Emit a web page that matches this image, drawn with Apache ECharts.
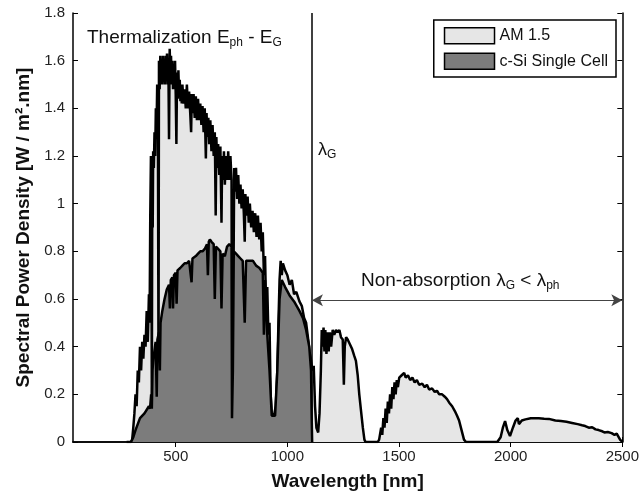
<!DOCTYPE html>
<html>
<head>
<meta charset="utf-8">
<script src="https://cdn.jsdelivr.net/npm/echarts@6/dist/echarts.min.js"></script>
<style>
  html, body { margin: 0; padding: 0; background: #fff; }
  #chart { width: 642px; height: 496px; }
</style>
</head>
<body>
<div id="chart"></div>
<script>
// AM 1.5 spectrum (nm, W/m2.nm)
const amWl = [280, 300, 305, 310, 315, 320, 325, 330, 335, 340, 345, 350, 355, 360, 365, 370, 375, 380, 383, 386,
  389, 391, 393, 395, 397, 399, 402, 405, 408, 411, 414, 417, 420, 423, 425, 428, 431, 434, 437, 440,
  443, 446, 449, 452, 455, 458, 461, 464, 467, 470, 473, 476, 479, 482, 485, 488, 491, 494, 497, 500,
  503, 506, 509, 512, 515, 518, 521, 524, 527, 530, 535, 540, 545, 550, 555, 560, 565, 569, 572, 576,
  580, 585, 590, 595, 600, 605, 610, 615, 620, 625, 630, 635, 638, 642, 646, 650, 655, 660, 665, 670,
  675, 679, 682, 686, 690, 695, 700, 705, 708, 712, 716, 720, 725, 730, 735, 740, 745, 750, 752, 755,
  758, 762, 766, 770, 775, 780, 785, 790, 795, 800, 805, 809, 812, 817, 822, 827, 832, 838, 844, 850,
  856, 862, 868, 874, 880, 885, 890, 895, 900, 905, 910, 915, 920, 925, 930, 940, 948, 955, 960, 965,
  970, 975, 980, 990, 1000, 1010, 1020, 1030, 1040, 1054, 1065, 1075, 1084, 1092, 1099, 1105, 1112, 1118, 1124, 1130,
  1138, 1144, 1150, 1154, 1158, 1162, 1166, 1170, 1175, 1180, 1185, 1190, 1196, 1203, 1210, 1218, 1226, 1233, 1240, 1248,
  1253, 1257, 1263, 1270, 1280, 1290, 1300, 1307, 1315, 1322, 1330, 1338, 1345, 1350, 1405, 1411, 1420, 1425, 1430, 1435,
  1440, 1445, 1450, 1455, 1460, 1465, 1470, 1475, 1480, 1485, 1490, 1495, 1501, 1512, 1523, 1530, 1540, 1550, 1560, 1570,
  1580, 1590, 1604, 1615, 1625, 1635, 1648, 1660, 1670, 1680, 1693, 1705, 1715, 1725, 1738, 1750, 1760, 1769, 1780, 1791,
  1800, 1940, 1955, 1965, 1975, 1985, 1997, 2010, 2022, 2032, 2037, 2050, 2066, 2090, 2126, 2150, 2171, 2200, 2225, 2250,
  2275, 2300, 2320, 2334, 2350, 2365, 2380, 2394, 2410, 2420, 2435, 2452, 2465, 2475, 2490, 2500];
const amVal = [0, 0, 0.01, 0.06, 0.12, 0.2, 0.15, 0.3, 0.25, 0.4, 0.3, 0.42, 0.35, 0.45, 0.4, 0.55, 0.42, 0.62, 0.5, 0.95,
  1.2, 1.05, 0.14, 1.1, 0.9, 1.22, 1.15, 1.3, 1.2, 1.4, 1.3, 1.5, 1.42, 0.3, 1.6, 1.48, 1.62, 1.5, 1.6, 1.5,
  1.62, 1.52, 1.6, 1.5, 1.62, 1.52, 1.63, 1.5, 1.6, 1.27, 1.65, 1.55, 1.62, 1.5, 1.6, 1.48, 1.58, 1.48, 1.6, 1.46,
  1.25, 1.55, 1.44, 1.56, 1.45, 1.52, 1.43, 1.5, 1.42, 1.5, 1.42, 1.48, 1.4, 1.5, 1.4, 1.47, 1.38, 1.3, 1.46, 1.38,
  1.46, 1.36, 1.45, 1.35, 1.44, 1.35, 1.42, 1.33, 1.41, 1.3, 1.4, 1.19, 1.38, 1.28, 1.36, 1.25, 1.35, 1.22, 1.33, 1.2,
  1.3, 0.95, 1.28, 1.15, 1.25, 1.12, 1.24, 0.92, 1.2, 1.1, 1.22, 1.08, 1.2, 1.1, 1.22, 1.1, 1.2, 1.1, 0.1, 0.3,
  0.6, 1.15, 1.05, 1.15, 1.02, 1.12, 1.0, 1.08, 0.98, 1.06, 0.96, 0.84, 1.04, 0.95, 1.03, 0.92, 1.0, 0.9, 0.97, 0.88,
  0.96, 0.86, 0.95, 0.85, 0.92, 0.8, 0.88, 0.7, 0.78, 0.55, 0.65, 0.45, 0.5, 0.2, 0.12, 0.11, 0.15, 0.3, 0.5, 0.68,
  0.76, 0.7, 0.75, 0.72, 0.7, 0.66, 0.68, 0.62, 0.63, 0.59, 0.57, 0.52, 0.5, 0.44, 0.38, 0.35, 0.3, 0.32, 0.15, 0.06,
  0.04, 0.12, 0.3, 0.47, 0.4, 0.48, 0.38, 0.47, 0.37, 0.46, 0.38, 0.46, 0.4, 0.47, 0.45, 0.47, 0.46, 0.47, 0.44, 0.43,
  0.24, 0.4, 0.44, 0.43, 0.41, 0.39, 0.36, 0.34, 0.28, 0.2, 0.13, 0.06, 0.01, 0, 0, 0.01, 0.06, 0.03, 0.1, 0.06,
  0.14, 0.08, 0.17, 0.12, 0.2, 0.14, 0.23, 0.18, 0.25, 0.2, 0.26, 0.23, 0.27, 0.28, 0.29, 0.27, 0.28, 0.26, 0.27, 0.25,
  0.26, 0.24, 0.245, 0.23, 0.24, 0.22, 0.225, 0.21, 0.215, 0.2, 0.2, 0.19, 0.18, 0.165, 0.15, 0.13, 0.11, 0.09, 0.05, 0.01,
  0, 0, 0.02, 0.06, 0.088, 0.05, 0.025, 0.06, 0.09, 0.1, 0.075, 0.09, 0.095, 0.1, 0.1, 0.098, 0.097, 0.09, 0.088, 0.085,
  0.08, 0.075, 0.07, 0.067, 0.06, 0.062, 0.053, 0.05, 0.045, 0.04, 0.042, 0.037, 0.03, 0.035, 0.01, 0];

// c-Si single cell usable part
const siWl = [300, 310, 320, 340, 360, 380, 385, 390, 393, 396, 400, 410, 415, 418, 425, 429, 432, 440, 450, 460,
  470, 474, 478, 485, 488, 492, 500, 504, 508, 520, 530, 540, 550, 560, 571, 575, 590, 600, 610, 620,
  630, 640, 644, 648, 653, 660, 670, 675, 680, 690, 700, 705, 710, 720, 730, 740, 750, 752, 756, 760,
  770, 780, 790, 800, 809, 815, 830, 846, 860, 875, 890, 895, 900, 910, 920, 930, 945, 955, 965, 975,
  990, 1010, 1030, 1054, 1070, 1084, 1098, 1106, 1109, 1111];
const siVal = [0, 0.02, 0.05, 0.1, 0.12, 0.15, 0.14, 0.2, 0.14, 0.3, 0.35, 0.42, 0.19, 0.43, 0.46, 0.3, 0.5, 0.55, 0.6, 0.64,
  0.66, 0.56, 0.68, 0.69, 0.56, 0.7, 0.71, 0.58, 0.72, 0.73, 0.74, 0.75, 0.75, 0.76, 0.67, 0.77, 0.78, 0.79, 0.8, 0.8,
  0.81, 0.83, 0.7, 0.84, 0.85, 0.84, 0.83, 0.6, 0.82, 0.81, 0.8, 0.56, 0.79, 0.78, 0.82, 0.83, 0.82, 0.1, 0.3, 0.8,
  0.79, 0.78, 0.77, 0.76, 0.5, 0.76, 0.76, 0.76, 0.74, 0.73, 0.71, 0.45, 0.68, 0.45, 0.3, 0.11, 0.11, 0.3, 0.6, 0.68,
  0.65, 0.615, 0.59, 0.55, 0.52, 0.47, 0.4, 0.3, 0.1, 0];

const xTicks = [500, 1000, 1500, 2000, 2500];
const lambdaG = 1110;
const arrowY = 0.595;

const font = 'Liberation Sans, Arial, Helvetica, sans-serif';
const zip = (xs, ys) => xs.map((x, i) => [x, ys[i]]);

const chart = echarts.init(document.getElementById('chart'), null, { renderer: 'canvas' });

chart.setOption({
  animation: false,
  grid: { left: 73, right: 19, top: 13, bottom: 52 },
  legend: {
    orient: 'vertical',
    right: 26,
    top: 20,
    padding: [7, 8, 7, 10],
    itemGap: 8,
    itemWidth: 50,
    itemHeight: 16,
    borderColor: '#000',
    borderWidth: 1.5,
    textStyle: { fontFamily: font, fontSize: 16, color: '#111' },
    data: [
      { name: 'AM 1.5', icon: 'rect', itemStyle: { color: '#e6e6e6', borderColor: '#000', borderWidth: 1.5 } },
      { name: 'c-Si Single Cell', icon: 'rect', itemStyle: { color: '#7c7c7c', borderColor: '#000', borderWidth: 1.5 } }
    ]
  },
  xAxis: [{
    type: 'value',
    min: 40,
    max: 2500,
    name: 'Wavelength [nm]',
    nameLocation: 'middle',
    nameGap: 30,
    nameTextStyle: { fontFamily: font, fontSize: 19, fontWeight: 'bold', color: '#111' },
    axisLine: { lineStyle: { color: '#000', width: 1.5 } },
    axisTick: { inside: true, length: 5, customValues: xTicks, lineStyle: { color: '#000' } },
    axisLabel: {
      customValues: xTicks,
      formatter: v => String(v),
      fontFamily: font, fontSize: 15, color: '#222', margin: 7
    },
    splitLine: { show: false }
  }, {
    type: 'value',
    position: 'top',
    min: 40,
    max: 2500,
    axisLine: { show: true, lineStyle: { color: '#000', width: 1.5 } },
    axisTick: { inside: true, length: 5, customValues: xTicks, lineStyle: { color: '#000' } },
    axisLabel: { show: false },
    splitLine: { show: false }
  }],
  yAxis: [{
    type: 'value',
    min: 0,
    max: 1.8,
    interval: 0.2,
    name: 'Spectral Power Density [W / m\u00b2.nm]',
    nameLocation: 'middle',
    nameGap: 36,
    nameTextStyle: { fontFamily: font, fontSize: 19, fontWeight: 'bold', color: '#111' },
    axisLine: { show: true, lineStyle: { color: '#000', width: 1.5 } },
    axisTick: { show: true, inside: true, length: 5, lineStyle: { color: '#000' } },
    axisLabel: { fontFamily: font, fontSize: 15, color: '#222', margin: 8 },
    splitLine: { show: false }
  }, {
    type: 'value',
    position: 'right',
    min: 0,
    max: 1.8,
    interval: 0.2,
    axisLine: { show: true, lineStyle: { color: '#000', width: 1.5 } },
    axisTick: { show: true, inside: true, length: 5, lineStyle: { color: '#000' } },
    axisLabel: { show: false },
    splitLine: { show: false }
  }],
  series: [{
    name: 'AM 1.5',
    type: 'line',
    data: zip(amWl, amVal),
    showSymbol: false,
    symbol: 'none',
    lineStyle: { color: '#000', width: 2.5 },
    itemStyle: { color: '#e6e6e6' },
    areaStyle: { color: '#e6e6e6', opacity: 1 },
    z: 2
  }, {
    name: 'c-Si Single Cell',
    type: 'line',
    data: zip(siWl, siVal),
    showSymbol: false,
    symbol: 'none',
    lineStyle: { color: '#000', width: 2.5 },
    itemStyle: { color: '#7c7c7c' },
    areaStyle: { color: '#7c7c7c', opacity: 1 },
    z: 3,
    markLine: {
      silent: true,
      animation: false,
      symbol: ['none', 'none'],
      label: { show: false },
      data: [
        { xAxis: lambdaG, lineStyle: { color: '#000', width: 1.5, type: 'solid' } },
        [
          { coord: [lambdaG, arrowY], symbol: 'arrow', symbolSize: [9, 11], lineStyle: { color: '#444', width: 1, type: 'solid' } },
          { coord: [2500, arrowY], symbol: 'arrow', symbolSize: [9, 11] }
        ]
      ]
    }
  }],
  graphic: [{
    type: 'text',
    x: 87,
    y: 38,
    style: {
      text: '{m|Thermalization E}{s|ph}{m| - E}{s|G}',
      verticalAlign: 'middle',
      rich: {
        m: { fontFamily: font, fontSize: 19, fill: '#111', lineHeight: 22 },
        s: { fontFamily: font, fontSize: 12, fill: '#111', lineHeight: 22, verticalAlign: 'bottom' }
      }
    }
  }, {
    type: 'text',
    x: 318,
    y: 150,
    style: {
      text: '{m|\u03bb}{s|G}',
      verticalAlign: 'middle',
      rich: {
        m: { fontFamily: font, fontSize: 18, fill: '#111', lineHeight: 22 },
        s: { fontFamily: font, fontSize: 12, fill: '#111', lineHeight: 22, verticalAlign: 'bottom' }
      }
    }
  }, {
    type: 'text',
    x: 361,
    y: 281,
    style: {
      text: '{m|Non-absorption \u03bb}{s|G}{m| < \u03bb}{s|ph}',
      verticalAlign: 'middle',
      rich: {
        m: { fontFamily: font, fontSize: 19, fill: '#111', lineHeight: 22 },
        s: { fontFamily: font, fontSize: 12, fill: '#111', lineHeight: 22, verticalAlign: 'bottom' }
      }
    }
  }]
});
</script>
</body>
</html>
